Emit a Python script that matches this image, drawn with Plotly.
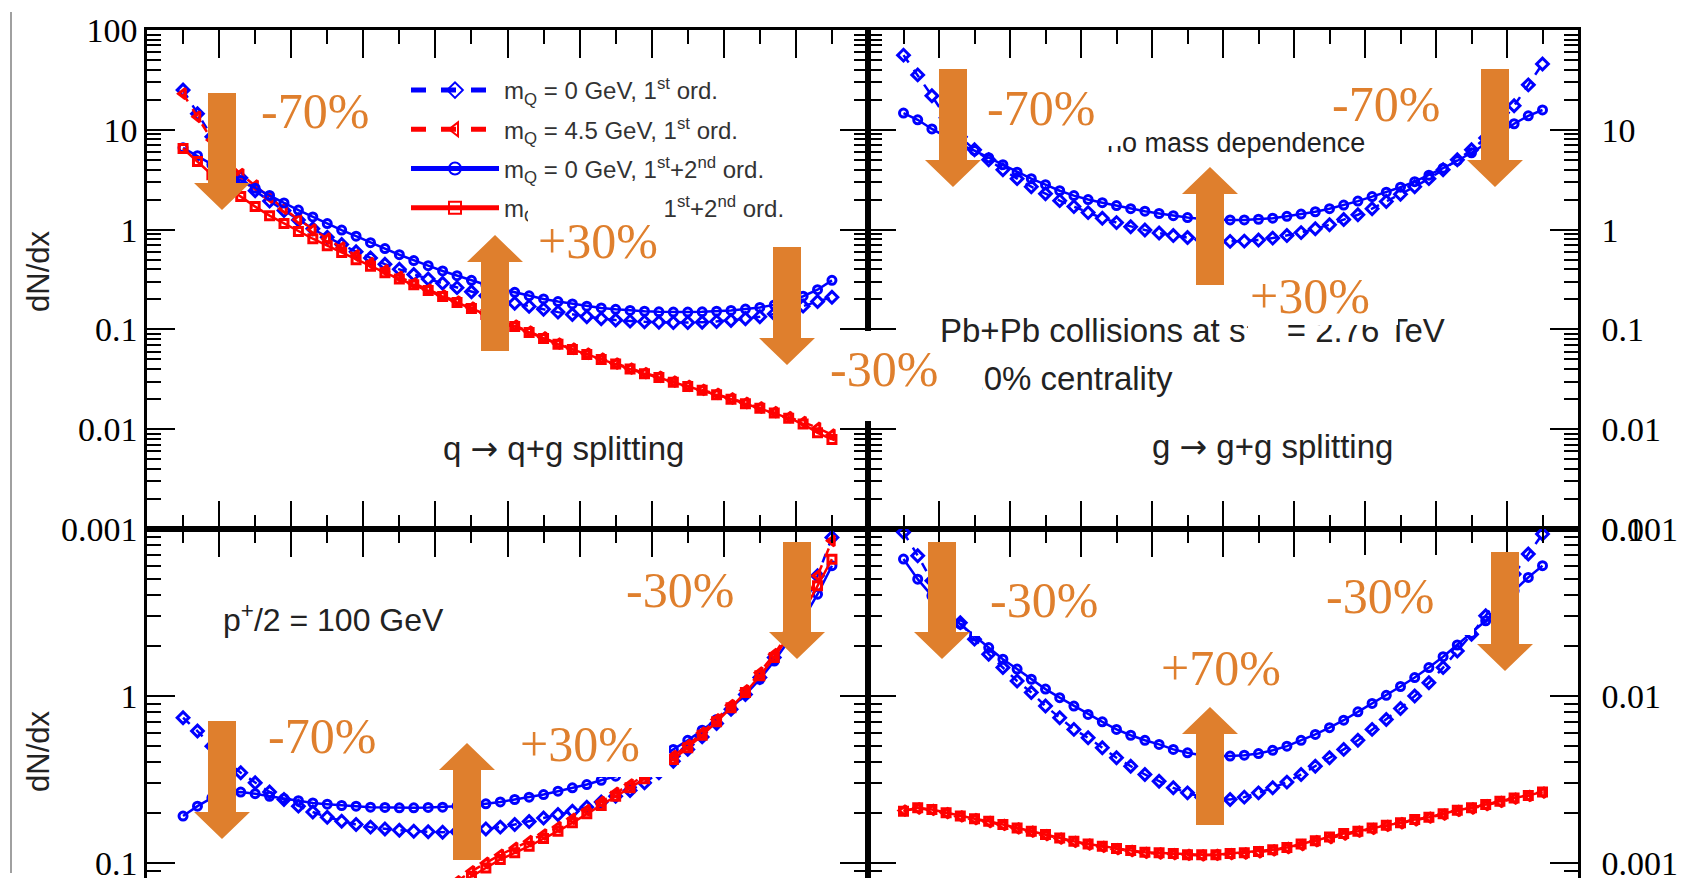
import plotly.graph_objects as go

W, H = 1691, 878

# ---------------- data ----------------
x_vals = [0.05, 0.07, 0.09, 0.11, 0.13, 0.15, 0.17, 0.19, 0.21, 0.23, 0.25, 0.27, 0.29, 0.31, 0.33,
          0.35, 0.37, 0.39, 0.41, 0.43, 0.45, 0.47, 0.49, 0.51, 0.53, 0.55, 0.57, 0.59, 0.61, 0.63,
          0.65, 0.67, 0.69, 0.71, 0.73, 0.75, 0.77, 0.79, 0.81, 0.83, 0.85, 0.87, 0.89, 0.91, 0.93, 0.95]
x_bl_red = [0.41, 0.43, 0.45, 0.47, 0.49, 0.51, 0.53, 0.55, 0.57, 0.59, 0.61, 0.63, 0.65, 0.67,
            0.69, 0.71, 0.73, 0.75, 0.77, 0.79, 0.81, 0.83, 0.85, 0.87, 0.89, 0.91, 0.93, 0.95]

# top-left: q -> q+g splitting
tl_m0_1st = [25, 14.5, 8.5, 5.0, 3.3, 2.45, 1.93, 1.55, 1.25, 1.02, 0.84, 0.71, 0.60, 0.52, 0.45, 0.40,
             0.355, 0.32, 0.29, 0.262, 0.238, 0.217, 0.198, 0.183, 0.17, 0.159, 0.149, 0.141, 0.134,
             0.128, 0.124, 0.121, 0.119, 0.118, 0.117, 0.117, 0.118, 0.12, 0.123, 0.128, 0.134, 0.143,
             0.155, 0.171, 0.19, 0.21]
tl_m45_1st = [23, 13.5, 7.9, 5.0, 3.6, 2.75, 2.1, 1.62, 1.26, 1.0, 0.81, 0.66, 0.55, 0.46, 0.39, 0.335,
              0.287, 0.25, 0.218, 0.19, 0.165, 0.144, 0.125, 0.109, 0.095, 0.083, 0.072, 0.064, 0.057,
              0.051, 0.0455, 0.0405, 0.0365, 0.0335, 0.030, 0.0272, 0.0248, 0.0226, 0.0203, 0.0183,
              0.0165, 0.0148, 0.0132, 0.0118, 0.0103, 0.0088]
tl_m0_12 = [6.6, 5.5, 4.5, 3.7, 3.1, 2.6, 2.2, 1.85, 1.57, 1.34, 1.15, 0.99, 0.86, 0.74, 0.645, 0.56,
            0.49, 0.435, 0.385, 0.345, 0.31, 0.28, 0.255, 0.235, 0.217, 0.202, 0.19, 0.18, 0.171, 0.164,
            0.159, 0.155, 0.152, 0.15, 0.149, 0.149, 0.15, 0.152, 0.155, 0.16, 0.166, 0.176, 0.192,
            0.215, 0.25, 0.31]
tl_m45_12 = [6.5, 4.8, 3.55, 2.7, 2.14, 1.7, 1.38, 1.15, 0.955, 0.81, 0.69, 0.59, 0.50, 0.43, 0.37, 0.32,
             0.28, 0.245, 0.214, 0.186, 0.162, 0.141, 0.123, 0.107, 0.093, 0.081, 0.071, 0.063, 0.056,
             0.050, 0.045, 0.040, 0.036, 0.033, 0.0295, 0.0268, 0.0245, 0.0222, 0.020, 0.018, 0.0162,
             0.0145, 0.0129, 0.0113, 0.0092, 0.0079]

# top-right: g -> g+g splitting (no mass dependence)
tr_m0_1st = [56, 35.5, 21.9, 13.2, 8.5, 6.3, 5.0, 3.98, 3.24, 2.69, 2.29, 1.95, 1.70, 1.48, 1.30, 1.175,
             1.07, 0.99, 0.923, 0.871, 0.832, 0.794, 0.773, 0.762, 0.767, 0.785, 0.822, 0.871, 0.933,
             1.02, 1.12, 1.26, 1.41, 1.62, 1.91, 2.26, 2.69, 3.24, 3.98, 5.0, 6.3, 8.3, 11.5, 17.4,
             28.2, 45.7]
tr_m0_12 = [14.7, 12.6, 10.2, 8.5, 7.1, 6.2, 5.25, 4.47, 3.76, 3.24, 2.82, 2.45, 2.19, 2.0, 1.86, 1.74,
            1.62, 1.53, 1.45, 1.38, 1.32, 1.28, 1.26, 1.25, 1.25, 1.27, 1.30, 1.36, 1.43, 1.51, 1.62,
            1.76, 1.93, 2.14, 2.37, 2.66, 3.02, 3.51, 4.12, 4.9, 5.89, 7.24, 9.12, 11.5, 13.8, 15.8]

# bottom-left: p+/2 = 100 GeV, q -> q+g
bl_m0_1st = [0.741, 0.617, 0.501, 0.407, 0.347, 0.302, 0.266, 0.24, 0.219, 0.202, 0.188, 0.178, 0.17,
             0.164, 0.16, 0.157, 0.155, 0.154, 0.153, 0.154, 0.156, 0.16, 0.164, 0.17, 0.177, 0.186,
             0.195, 0.204, 0.216, 0.232, 0.251, 0.272, 0.302, 0.347, 0.407, 0.479, 0.569, 0.684, 0.832,
             1.02, 1.29, 1.70, 2.34, 3.39, 5.25, 8.9]
bl_m0_12 = [0.191, 0.219, 0.245, 0.263, 0.266, 0.26, 0.251, 0.243, 0.236, 0.229, 0.225, 0.221, 0.219,
            0.216, 0.215, 0.214, 0.214, 0.215, 0.216, 0.219, 0.221, 0.226, 0.232, 0.24, 0.248, 0.257,
            0.269, 0.282, 0.295, 0.313, 0.331, 0.355, 0.389, 0.427, 0.479, 0.543, 0.624, 0.724, 0.851,
            1.02, 1.26, 1.62, 2.14, 2.88, 4.07, 6.03]
bl_m45_1st = [0.0676, 0.0776, 0.0891, 0.1, 0.112, 0.123, 0.135, 0.148, 0.164, 0.184, 0.207, 0.232, 0.263,
              0.295, 0.335, 0.38, 0.437, 0.507, 0.603, 0.724, 0.881, 1.08, 1.38, 1.78, 2.4, 3.39, 5.25, 8.5]
bl_m45_12 = [0.063, 0.0724, 0.0832, 0.0933, 0.105, 0.115, 0.126, 0.14, 0.155, 0.174, 0.197, 0.221, 0.251,
             0.282, 0.32, 0.363, 0.417, 0.49, 0.582, 0.70, 0.851, 1.05, 1.32, 1.70, 2.29, 3.16, 4.57, 6.6]

# bottom-right: g -> g+g
br_m0_1st = [0.0955, 0.0692, 0.049, 0.0347, 0.0275, 0.0219, 0.0178, 0.0148, 0.0123, 0.0105, 0.00871,
             0.00741, 0.00631, 0.00562, 0.0049, 0.00427, 0.0038, 0.00339, 0.00309, 0.00282, 0.00263,
             0.00248, 0.0024, 0.0024, 0.00248, 0.00263, 0.00282, 0.00305, 0.00339, 0.0038, 0.00427,
             0.00479, 0.00543, 0.00631, 0.00724, 0.00841, 0.01, 0.012, 0.0148, 0.0186, 0.0234, 0.0302,
             0.0398, 0.0537, 0.0708, 0.0933]
br_m0_12 = [0.0661, 0.0501, 0.0398, 0.0324, 0.0269, 0.0229, 0.0195, 0.0166, 0.0145, 0.0126, 0.011,
            0.00977, 0.00871, 0.00776, 0.007, 0.00631, 0.00582, 0.00543, 0.00513, 0.00479, 0.00457,
            0.00442, 0.00437, 0.00437, 0.00442, 0.00452, 0.00473, 0.00501, 0.00543, 0.00589, 0.00646,
            0.00716, 0.00804, 0.00902, 0.0101, 0.0114, 0.0129, 0.0148, 0.0172, 0.0202, 0.0237, 0.0282,
            0.0347, 0.0427, 0.0513, 0.0603]
br_m45_1st = [0.00206, 0.00212, 0.00208, 0.00199, 0.0019, 0.00183, 0.00176, 0.00169, 0.00161, 0.00154,
              0.00147, 0.0014, 0.00134, 0.00129, 0.00125, 0.00121, 0.00118, 0.00115, 0.00114, 0.00113,
              0.00112, 0.00111, 0.00112, 0.00113, 0.00114, 0.00116, 0.00119, 0.00123, 0.00128, 0.00135,
              0.00141, 0.00148, 0.00154, 0.0016, 0.00167, 0.00173, 0.0018, 0.00187, 0.00195, 0.00205,
              0.00212, 0.00222, 0.00232, 0.00243, 0.00252, 0.00264]
br_m45_12 = [0.00204, 0.00214, 0.00209, 0.002, 0.00191, 0.00184, 0.00178, 0.0017, 0.00162, 0.00155,
             0.00148, 0.00141, 0.00135, 0.0013, 0.00126, 0.00122, 0.00119, 0.00116, 0.00115, 0.00114,
             0.00112, 0.00112, 0.00112, 0.00114, 0.00115, 0.00117, 0.0012, 0.00124, 0.0013, 0.00136,
             0.00143, 0.0015, 0.00155, 0.00162, 0.00168, 0.00174, 0.00182, 0.00188, 0.00197, 0.00207,
             0.00214, 0.00224, 0.00234, 0.00245, 0.00254, 0.00266]

series_names = {
    "m0_1st": "m<sub>Q</sub> = 0 GeV, 1<sup>st</sup> ord.",
    "m45_1st": "m<sub>Q</sub> = 4.5 GeV, 1<sup>st</sup> ord.",
    "m0_12": "m<sub>Q</sub> = 0 GeV, 1<sup>st</sup>+2<sup>nd</sup> ord.",
    "m45_12": "m<sub>Q</sub> = 4.5 GeV, 1<sup>st</sup>+2<sup>nd</sup> ord.",
}
decade_vals = [0.001, 0.01, 0.1, 1, 10, 100]
decade_text = ["0.001", "0.01", "0.1", "1", "10", "100"]
pct_labels = ["-70%", "+30%", "-30%", "-70%", "-70%", "+30%", "-70%", "+30%", "-30%", "-30%", "+70%", "-30%"]

# ---------------- styles ----------------
STYLE = {
    "m0_1st": dict(color="#0000FF", dash="dash", symbol="diamond-open", size=9),
    "m45_1st": dict(color="#FF0000", dash="dash", symbol="triangle-left-open", size=9),
    "m0_12": dict(color="#0000FF", dash="solid", symbol="circle-open", size=8),
    "m45_12": dict(color="#FF0000", dash="solid", symbol="square-open", size=8),
}
ORANGE = "#DF7F2D"
TXT = "#222222"
ARROW = '<span style="font-family:DejaVu Sans">→</span>'

fig = go.Figure()


def add(x, y, key, xa, ya, legend=False):
    s = STYLE[key]
    fig.add_trace(go.Scatter(
        x=x, y=y, mode="lines+markers", xaxis=xa, yaxis=ya,
        name=series_names[key], legendgroup=key, showlegend=legend,
        line=dict(color=s["color"], width=2.5, dash=s["dash"]),
        marker=dict(symbol=s["symbol"], size=s["size"], color=s["color"],
                    line=dict(color=s["color"], width=3)),
        hoverinfo="skip"))


# legend order traces (top-left)
add(x_vals, tl_m0_1st, "m0_1st", "x", "y", True)
add(x_vals, tl_m45_1st, "m45_1st", "x", "y", True)
add(x_vals, tl_m0_12, "m0_12", "x", "y", True)
add(x_vals, tl_m45_12, "m45_12", "x", "y", True)
# top-right
add(x_vals, tr_m0_1st, "m0_1st", "x2", "y2")
add(x_vals, tr_m0_12, "m0_12", "x2", "y2")
# bottom-left
add(x_vals, bl_m0_1st, "m0_1st", "x3", "y3")
add(x_vals, bl_m0_12, "m0_12", "x3", "y3")
add(x_bl_red, bl_m45_1st, "m45_1st", "x3", "y3")
add(x_bl_red, bl_m45_12, "m45_12", "x3", "y3")
# bottom-right
add(x_vals, br_m0_1st, "m0_1st", "x4", "y4")
add(x_vals, br_m0_12, "m0_12", "x4", "y4")
add(x_vals, br_m45_1st, "m45_1st", "x4", "y4")
add(x_vals, br_m45_12, "m45_12", "x4", "y4")


# ---------------- axes ----------------
def P(px):
    return px / W


def Q(py):
    return 1 - py / H


X_L = [P(147), P(868)]
X_R = [P(868), P(1578)]
Y_T = [Q(529), Q(30)]
Y_B = [0, Q(529)]

minor_log = [m * 10 ** e for e in range(-5, 3) for m in range(2, 10)]
TICKFONT = dict(family="Liberation Serif", size=34, color="black")


def xax(domain, side, mirror, anchor):
    return dict(domain=domain, range=[0, 1], side=side, mirror=mirror, anchor=anchor,
                automargin=False,
                showline=True, linecolor="black", linewidth=2.5,
                ticks="inside", ticklen=28, tickwidth=2, tickcolor="black",
                tick0=0, dtick=0.1, showticklabels=False, showgrid=False, zeroline=False,
                minor=dict(ticks="inside", ticklen=14, tickwidth=2, tickcolor="black",
                           tick0=0, dtick=0.05, showgrid=False))


def yax(domain, rng, side, anchor, vals, standoff):
    return dict(domain=domain, type="log", range=rng, side=side, mirror="ticks", anchor=anchor,
                automargin=False, ticklabeloverflow="allow",
                showline=True, linecolor="black", linewidth=2.5,
                ticks="inside", ticklen=28, tickwidth=2, tickcolor="black",
                tickmode="array", tickvals=vals,
                ticktext=[decade_text[decade_vals.index(v)] for v in vals],
                tickfont=TICKFONT, ticklabelstandoff=standoff,
                showgrid=False, zeroline=False,
                minor=dict(ticks="inside", ticklen=14, tickwidth=2, tickcolor="black",
                           tickmode="array", tickvals=minor_log, showgrid=False))


bot_dec = 349 / 167.0
fig.update_layout(
    xaxis=xax(X_L, "bottom", "ticks", "y"),
    yaxis=yax(Y_T, [-3, 2], "left", "x", decade_vals, 0),
    xaxis2=xax(X_R, "bottom", "ticks", "y2"),
    yaxis2=yax(Y_T, [-3, 2], "right", "x2", [0.001, 0.01, 0.1, 1, 10], 14),
    xaxis3=xax(X_L, "top", False, "y3"),
    yaxis3=yax(Y_B, [1 - bot_dec, 1], "left", "x3", [0.1, 1], 0),
    xaxis4=xax(X_R, "top", False, "y4"),
    yaxis4=yax(Y_B, [-1 - bot_dec, -1], "right", "x4", [0.001, 0.01, 0.1], 14),
)

# ---------------- legend ----------------
fig.update_layout(
    showlegend=True,
    legend=dict(x=P(406), y=Q(68), xanchor="left", yanchor="top",
                bgcolor="rgba(255,255,255,0)", borderwidth=0,
                font=dict(family="Liberation Sans", size=24, color="#333333"),
                tracegroupgap=5, itemwidth=88, itemsizing="constant", traceorder="grouped"),
)

# ---------------- orange block arrows ----------------
arrow_specs = [(222, 93, 210), (495, 351, 235), (787, 247, 365), (953, 69, 187), (1210, 285, 167),
               (1495, 69, 187), (222, 721, 839), (467, 860, 743), (797, 542, 659), (942, 542, 659),
               (1210, 825, 707), (1505, 552, 671)]
shapes = []
for cx, tail, tip in arrow_specs:
    sw, hw, hl = 28, 56, 27
    d = 1 if tip > tail else -1
    base = tip - d * hl
    pts = [(cx - sw / 2, tail), (cx + sw / 2, tail), (cx + sw / 2, base), (cx + hw / 2, base),
           (cx, tip), (cx - hw / 2, base), (cx - sw / 2, base)]
    path = "M " + " L ".join(f"{P(a):.5f},{Q(b):.5f}" for a, b in pts) + " Z"
    shapes.append(dict(type="path", path=path, xref="paper", yref="paper",
                       fillcolor=ORANGE, line=dict(width=0), layer="above"))
# thin grey frame line at the far left
shapes.append(dict(type="line", xref="paper", yref="paper", x0=P(11), x1=P(11), y0=Q(12), y1=Q(873),
                   line=dict(color="#A0A0A0", width=2)))
fig.update_layout(shapes=shapes)

# ---------------- annotations ----------------
anns = []


def text(t, xpx, ypx, size, xanchor="center", angle=0, family="Liberation Sans", color=TXT):
    anns.append(dict(text=t, x=P(xpx), y=Q(ypx), xref="paper", yref="paper", showarrow=False,
                     xanchor=xanchor, yanchor="middle", textangle=angle,
                     font=dict(family=family, size=size, color=color)))


text("q " + ARROW + " q+g splitting", 563, 448, 33)
text("g " + ARROW + " g+g splitting", 1272, 446, 33)
text("no mass dependence", 1105, 143, 27, xanchor="left")
text("Pb+Pb collisions at s<sup>1/2</sup> = 2.76 TeV", 938, 328, 33, xanchor="left")
text("0-10% centrality", 934, 378, 33, xanchor="left")
text("p<sup>+</sup>/2 = 100 GeV", 221, 618, 32, xanchor="left")
text("dN/dx", 38, 272, 31, angle=-90)
text("dN/dx", 38, 752, 31, angle=-90)

# white boxes of the pasted percentage labels
boxes = [(528, 188, 658, 268), (818, 331, 937, 421), (937, 352, 982, 421), (985, 78, 1122, 146),
         (1225, 258, 1398, 325), (1248, 300, 1284, 337), (505, 712, 669, 777), (1320, 555, 1474, 635),
         (972, 560, 1100, 636)]
for x0, y0, x1, y1 in boxes:
    anns.append(dict(text=" ", x=P((x0 + x1) / 2), y=Q((y0 + y1) / 2), xref="paper", yref="paper",
                     showarrow=False, xanchor="center", yanchor="middle", width=x1 - x0, height=y1 - y0,
                     bgcolor="white", borderpad=0, borderwidth=0, font=dict(size=2)))

pct_pos = [(315, 111), (598, 241), (884, 369), (1041, 108), (1386, 104), (1310, 296), (322, 736),
           (580, 744), (680, 590), (1044, 600), (1221, 668), (1380, 596)]
for lab, (px, py) in zip(pct_labels, pct_pos):
    text(lab, px, py, 50, family="Liberation Serif", color=ORANGE)

fig.update_layout(
    annotations=anns,
    width=W, height=H, margin=dict(l=0, r=0, t=0, b=0, pad=0, autoexpand=False),
    paper_bgcolor="white", plot_bgcolor="white",
)

fig.write_html("out.html")
